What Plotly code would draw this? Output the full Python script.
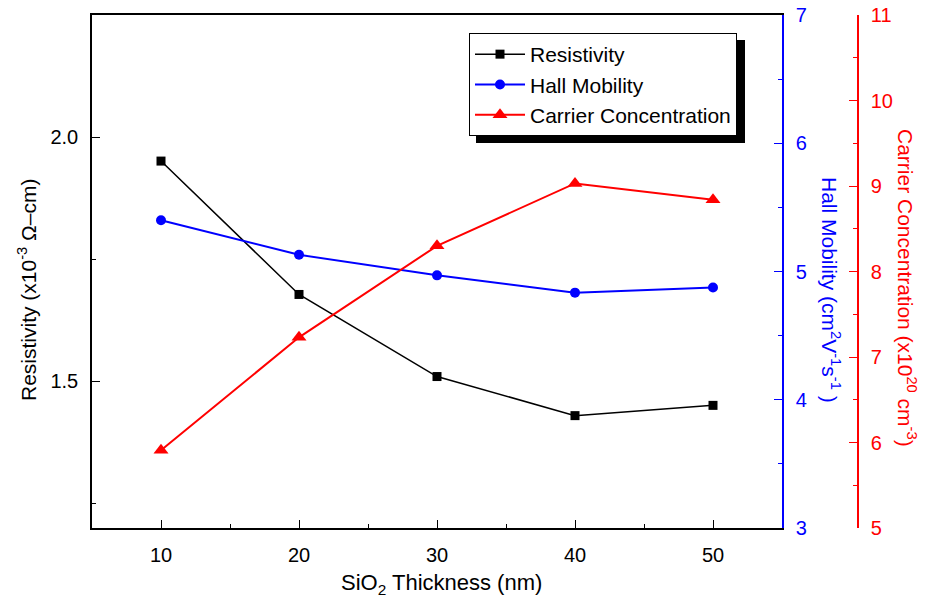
import plotly.graph_objects as go

# SiO2 thickness (nm)
thickness = [10, 20, 30, 40, 50]
# Resistivity (x10^-3 ohm-cm)
resistivity = [1.951, 1.678, 1.510, 1.430, 1.451]
# Hall mobility (cm^2 V^-1 s^-1)
mobility = [5.40, 5.13, 4.97, 4.835, 4.875]
# Carrier concentration (x10^20 cm^-3)
concentration = [5.91, 7.23, 8.30, 9.03, 8.84]

FONT = "Liberation Sans, Arial, sans-serif"
BLUE = "#0000FF"
RED = "#FF0000"

W, H = 925, 602
ML, MR, MT, MB = 92, 67, 15, 74
plot_right = 782  # pixel x of the blue (mobility) axis
paper_w = W - ML - MR
paper_h = H - MT - MB


def px_x(x):
    return (x - ML) / paper_w


def px_y(y):
    return (H - MB - y) / paper_h


fig = go.Figure()

fig.add_trace(go.Scatter(
    x=thickness, y=resistivity, name="Resistivity", mode="lines+markers",
    line=dict(color="black", width=1.5),
    marker=dict(symbol="square", size=9, color="black"),
    yaxis="y",
))
fig.add_trace(go.Scatter(
    x=thickness, y=mobility, name="Hall Mobility", mode="lines+markers",
    line=dict(color=BLUE, width=2),
    marker=dict(symbol="circle", size=10, color=BLUE),
    yaxis="y2",
))
fig.add_trace(go.Scatter(
    x=thickness, y=concentration, name="Carrier Concentration", mode="lines+markers",
    line=dict(color=RED, width=2),
    marker=dict(symbol="triangle-up", size=13, color=RED),
    yaxis="y3",
))

tickfont = dict(family=FONT, size=20)

fig.update_layout(
    width=W, height=H,
    margin=dict(l=ML, r=MR, t=MT, b=MB, autoexpand=False),
    paper_bgcolor="white", plot_bgcolor="white",
    font=dict(family=FONT, color="black"),
    showlegend=True,
    xaxis=dict(
        domain=[0, px_x(plot_right)], range=[5, 55], automargin=False,
        tickmode="linear", tick0=0, dtick=10,
        ticks="inside", ticklen=8, tickwidth=1.3, tickcolor="black",
        minor=dict(dtick=5, ticks="inside", ticklen=4, tickwidth=1.3, tickcolor="black"),
        showline=True, linecolor="black", linewidth=1.5, mirror=True,
        showgrid=False, zeroline=False,
        tickfont=tickfont, ticklabelstandoff=8,
    ),
    yaxis=dict(
        range=[1.2, 2.25], automargin=False,
        tickmode="linear", tick0=0, dtick=0.5, tickformat=".1f",
        ticks="inside", ticklen=8, tickwidth=1.3, tickcolor="black",
        minor=dict(dtick=0.25, ticks="inside", ticklen=4, tickwidth=1.3, tickcolor="black"),
        showline=True, linecolor="black", linewidth=1.5,
        showgrid=False, zeroline=False,
        tickfont=tickfont, ticklabelstandoff=8,
    ),
    yaxis2=dict(
        overlaying="y", side="right", anchor="x", automargin=False,
        range=[3, 7], tickmode="linear", tick0=0, dtick=1,
        ticks="inside", ticklen=8, tickwidth=1.3, tickcolor=BLUE,
        minor=dict(dtick=0.5, ticks="inside", ticklen=4, tickwidth=1.3, tickcolor=BLUE),
        showline=True, linecolor=BLUE, linewidth=1.5,
        showgrid=False, zeroline=False,
        tickfont=dict(family=FONT, size=20, color=BLUE), ticklabelstandoff=8,
    ),
    yaxis3=dict(
        overlaying="y", side="right", anchor="free", position=1, automargin=False,
        range=[5, 11], tickmode="linear", tick0=0, dtick=1,
        ticks="inside", ticklen=8, tickwidth=1.3, tickcolor=RED,
        minor=dict(dtick=0.5, ticks="inside", ticklen=4, tickwidth=1.3, tickcolor=RED),
        showline=True, linecolor=RED, linewidth=1.5,
        showgrid=False, zeroline=False,
        tickfont=dict(family=FONT, size=20, color=RED), ticklabelstandoff=8,
    ),
    legend=dict(
        x=px_x(469), y=px_y(33), xanchor="left", yanchor="top",
        bgcolor="white", bordercolor="black", borderwidth=1,
        font=dict(family=FONT, size=21, color="black"),
        itemwidth=50, tracegroupgap=0,
    ),
)

# drop shadow behind the legend box
fig.add_shape(
    type="rect", xref="paper", yref="paper",
    x0=px_x(476), x1=px_x(745), y0=px_y(143), y1=px_y(40),
    fillcolor="black", line=dict(width=0), layer="above",
)

# axis titles
fig.add_annotation(
    text="SiO<sub>2</sub> Thickness (nm)", xref="paper", yref="paper",
    x=px_x(441), y=px_y(584), xanchor="center", yanchor="middle", showarrow=False,
    font=dict(family=FONT, size=22, color="black"),
)
fig.add_annotation(
    text="Resistivity (x10<sup>-3</sup> Ω–cm)", xref="paper", yref="paper",
    x=px_x(27), y=px_y(290), xanchor="center", yanchor="middle", showarrow=False,
    textangle=-90, font=dict(family=FONT, size=21, color="black"),
)
fig.add_annotation(
    text="Hall Mobility (cm<sup>2</sup>V<sup>-1</sup>s<sup>-1</sup> )", xref="paper", yref="paper",
    x=px_x(831), y=px_y(290), xanchor="center", yanchor="middle", showarrow=False,
    textangle=90, font=dict(family=FONT, size=21, color=BLUE),
)
fig.add_annotation(
    text="Carrier Concentration (x10<sup>20</sup> cm<sup>-3</sup>)", xref="paper", yref="paper",
    x=px_x(907), y=px_y(288), xanchor="center", yanchor="middle", showarrow=False,
    textangle=90, font=dict(family=FONT, size=21, color=RED),
)

fig.write_html("out.html")
